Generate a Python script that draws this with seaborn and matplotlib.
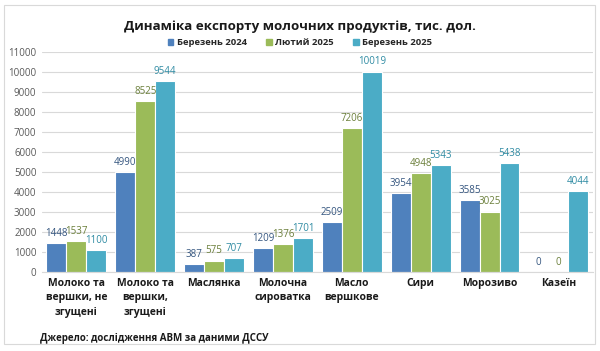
import pandas as pd
import numpy as np
import seaborn as sns
import matplotlib.pyplot as plt

# data
categories = ['Молоко та\nвершки, не\nзгущені', 'Молоко та\nвершки,\nзгущені', 'Маслянка',
              'Молочна\nсироватка', 'Масло\nвершкове', 'Сири', 'Морозиво', 'Казеїн']
series = ['Березень 2024', 'Лютий 2025', 'Березень 2025']
mar_2024 = [1448, 4990, 387, 1209, 2509, 3954, 3585, 0]
feb_2025 = [1537, 8525, 575, 1376, 7206, 4948, 3025, 0]
mar_2025 = [1100, 9544, 707, 1701, 10019, 5343, 5438, 4044]

colors = ['#4F81BD', '#9BBB59', '#4BACC6']
label_colors = ['#34557F', '#6B7F3A', '#2F8BA3']

df = pd.DataFrame({
    'category': categories * 3,
    'series': np.repeat(series, len(categories)),
    'value': mar_2024 + feb_2025 + mar_2025,
})

sns.set_style('white')
plt.rcParams['font.family'] = ['Open Sans', 'DejaVu Sans']

fig = plt.figure(figsize=(6, 3.51), dpi=100)
ax = fig.add_axes([0.07, 0.225, 0.918, 0.627])

sns.barplot(data=df, x='category', y='value', hue='series', palette=colors,
            saturation=1, width=0.87, edgecolor='white', linewidth=0.8,
            legend=False, ax=ax)

for cont, c in zip(ax.containers, label_colors):
    ax.bar_label(cont, fmt='%d', color=c, fontsize=7, padding=3)

ax.set_ylim(0, 11000)
ax.set_yticks(range(0, 11001, 1000))
ax.yaxis.grid(True, color='#D9D9D9', linewidth=0.8)
ax.set_axisbelow(True)
ax.set_xlabel('')
ax.set_ylabel('')
ax.tick_params(axis='y', labelsize=7, colors='#595959', length=0, pad=4)
ax.tick_params(axis='x', length=0, pad=4)
for lab in ax.get_xticklabels():
    lab.set_fontsize(7.5)
    lab.set_fontweight('bold')
    lab.set_color('#1A1A1A')
    lab.set_linespacing(1.45)
for s in ['top', 'right', 'left']:
    ax.spines[s].set_visible(False)
ax.spines['bottom'].set_color('#D9D9D9')
ax.set_xlim(-0.5, len(categories) - 0.5)

# legend
handles = [plt.Rectangle((0, 0), 1, 1, color=c) for c in colors]
fig.legend(handles, series, loc='center', bbox_to_anchor=(0.5, 0.878), ncol=3,
           frameon=False, prop={'size': 6.8, 'weight': 'bold'},
           handlelength=0.6, handleheight=0.6, handletextpad=0.4, columnspacing=2.0)

fig.text(0.5, 0.925, 'Динаміка експорту молочних продуктів, тис. дол.',
         ha='center', va='center', fontsize=9.6, fontweight='bold', color='#1A1A1A')
fig.text(0.067, 0.037, 'Джерело: дослідження АВМ за даними ДССУ',
         ha='left', va='center', fontsize=7, fontweight='bold', color='#1A1A1A')

# outer chart border
fig.add_artist(plt.Rectangle((0.006, 0.02), 0.985, 0.965, transform=fig.transFigure,
                             fill=False, edgecolor='#D9D9D9', linewidth=0.8))

fig.savefig('out.png', dpi=100)
